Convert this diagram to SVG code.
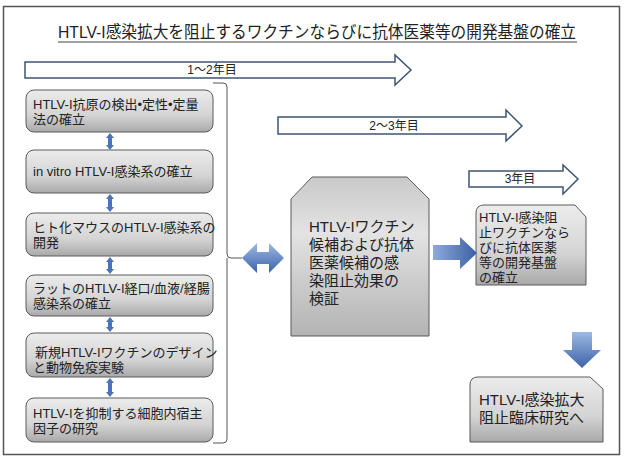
<svg xmlns="http://www.w3.org/2000/svg" width="624" height="459" viewBox="0 0 624 459">
<defs>
<linearGradient id="gbox" x1="0" y1="0" x2="0" y2="1">
<stop offset="0" stop-color="#ececec"/>
<stop offset="0.6" stop-color="#d4d4d4"/>
<stop offset="1" stop-color="#a9a9a9"/>
</linearGradient>
<linearGradient id="gbig" x1="0" y1="0" x2="0" y2="1">
<stop offset="0" stop-color="#c9c9c9"/>
<stop offset="0.35" stop-color="#e3e3e3"/>
<stop offset="1" stop-color="#b3b3b3"/>
</linearGradient>
<linearGradient id="gblue" x1="0" y1="0" x2="0" y2="1">
<stop offset="0" stop-color="#9db8e2"/>
<stop offset="1" stop-color="#3c63aa"/>
</linearGradient>
<linearGradient id="gblueh" x1="0" y1="0" x2="1" y2="0">
<stop offset="0" stop-color="#8eabd9"/>
<stop offset="1" stop-color="#3a5fa5"/>
</linearGradient>
<style>
text{font-family:"Liberation Sans","Noto Sans CJK JP",sans-serif;fill:#222}
.t13{font-size:13px}
.t15{font-size:15px}
.lbl{font-size:12px;text-anchor:middle}
.box{fill:url(#gbox);stroke:#5a5a5a;stroke-width:1}
.big{fill:url(#gbig);stroke:#5a5a5a;stroke-width:1}
.tl{fill:#fff;stroke:#3d5573;stroke-width:1.5}
.sm{fill:#4a74b8;stroke:none}
</style>
</defs>
<rect x="0" y="0" width="624" height="459" fill="#fff"/>
<rect x="3.5" y="6.5" width="616" height="448" fill="none" stroke="#555" stroke-width="1.5"/>
<g id="title">
<text x="317" y="38" text-anchor="middle" style="font-size:16.5px" textLength="518" lengthAdjust="spacingAndGlyphs">HTLV-I感染拡大を阻止するワクチンならびに抗体医薬等の開発基盤の確立</text>
<line x1="58" y1="42" x2="577" y2="42" stroke="#444" stroke-width="1"/>
</g>
<g id="timeline1">
<polygon class="tl" points="25,62 395,62 395,55 411,70 395,85 395,78 25,78"/>
<text class="lbl" x="212" y="74">1〜2年目</text>
</g>
<g id="timeline2">
<polygon class="tl" points="278,117 506,117 506,110 522,126 506,141 506,134 278,134"/>
<text class="lbl" x="394" y="130">2〜3年目</text>
</g>
<g id="timeline3">
<polygon class="tl" points="469,171 563,171 563,165 578,179 563,194 563,187 469,187"/>
<text class="lbl" x="520" y="183">3年目</text>
</g>
<g id="step1">
<rect class="box" x="26" y="90" width="187" height="42" rx="8"/>
<text class="t13"><tspan x="33" y="109">HTLV-I抗原の検出•定性•定量</tspan><tspan x="33" y="124">法の確立</tspan></text>
</g>
<g id="step2">
<rect class="box" x="26" y="150" width="187" height="43" rx="8"/>
<text class="t13" x="33" y="176">in vitro HTLV-I感染系の確立</text>
</g>
<g id="step3">
<rect class="box" x="26" y="213" width="187" height="43" rx="8"/>
<text class="t13"><tspan x="33" y="232">ヒト化マウスのHTLV-I感染系の</tspan><tspan x="33" y="247">開発</tspan></text>
</g>
<g id="step4">
<rect class="box" x="26" y="275" width="187" height="41" rx="8"/>
<text class="t13"><tspan x="33" y="293">ラットのHTLV-I経口/血液/経腸</tspan><tspan x="33" y="308">感染系の確立</tspan></text>
</g>
<g id="step5">
<rect class="box" x="26" y="333" width="187" height="44" rx="8"/>
<text class="t13"><tspan x="35" y="357">新規HTLV-Iワクチンのデザイン</tspan><tspan x="33" y="372">と動物免疫実験</tspan></text>
</g>
<g id="step6">
<rect class="box" x="26" y="398" width="187" height="44" rx="8"/>
<text class="t13"><tspan x="33" y="418">HTLV-Iを抑制する細胞内宿主</tspan><tspan x="33" y="433">因子の研究</tspan></text>
</g>
<g id="verify">
<path class="big" d="M291,199 L312,177 L407,177 L429,199 L429,336 L291,336 Z"/>
<text class="t15"><tspan x="309" y="232">HTLV-Iワクチン</tspan><tspan x="309" y="250">候補および抗体</tspan><tspan x="309" y="268">医薬候補の感</tspan><tspan x="309" y="286">染阻止効果の</tspan><tspan x="309" y="304">検証</tspan></text>
</g>
<g id="foundation">
<path class="box" d="M476,285 L476,213 Q476,205 484,205 L575,205 L586,217 L586,285 Z"/>
<text class="t13"><tspan x="479" y="222">HTLV-I感染阻</tspan><tspan x="479" y="237">止ワクチンなら</tspan><tspan x="479" y="252">びに抗体医薬</tspan><tspan x="479" y="267">等の開発基盤</tspan><tspan x="479" y="282">の確立</tspan></text>
</g>
<g id="clinical">
<path class="box" d="M470,442 L470,385 Q470,377 478,377 L590,377 L603,389 L603,442 Z"/>
<text class="t15"><tspan x="479" y="405">HTLV-I感染拡大</tspan><tspan x="479" y="423">阻止臨床研究へ</tspan></text>
</g>
<g id="connectors">
<path d="M213,83 L223,83 Q227,83 227,87 L227,254 Q227,258 231,258 L242,258 M227,258 L227,439 Q227,443 223,443 L213,443" fill="none" stroke="#555" stroke-width="1"/>
<polygon class="sm" points="110,133 114,138 112,138 112,145 114,145 110,150 106,145 108,145 108,138 106,138"/>
<polygon class="sm" points="110,194 114,199 112,199 112,207 114,207 110,212 106,207 108,207 108,199 106,199"/>
<polygon class="sm" points="110,257 114,262 112,262 112,269 114,269 110,274 106,269 108,269 108,262 106,262"/>
<polygon class="sm" points="110,317 114,322 112,322 112,327 114,327 110,332 106,327 108,327 108,322 106,322"/>
<polygon class="sm" points="110,378 114,383 112,383 112,392 114,392 110,397 106,392 108,392 108,383 106,383"/>
<polygon fill="url(#gblue)" points="242,258 257,243 257,252 269,252 269,243 284,258 269,273 269,264 257,264 257,273"/>
<polygon fill="url(#gblueh)" points="433,245 460,245 460,237 477,253 460,269 460,260 433,260"/>
<polygon fill="url(#gblue)" points="572,332 592,332 592,350 601,350 582,368 563,350 572,350"/>
</g>
</svg>
